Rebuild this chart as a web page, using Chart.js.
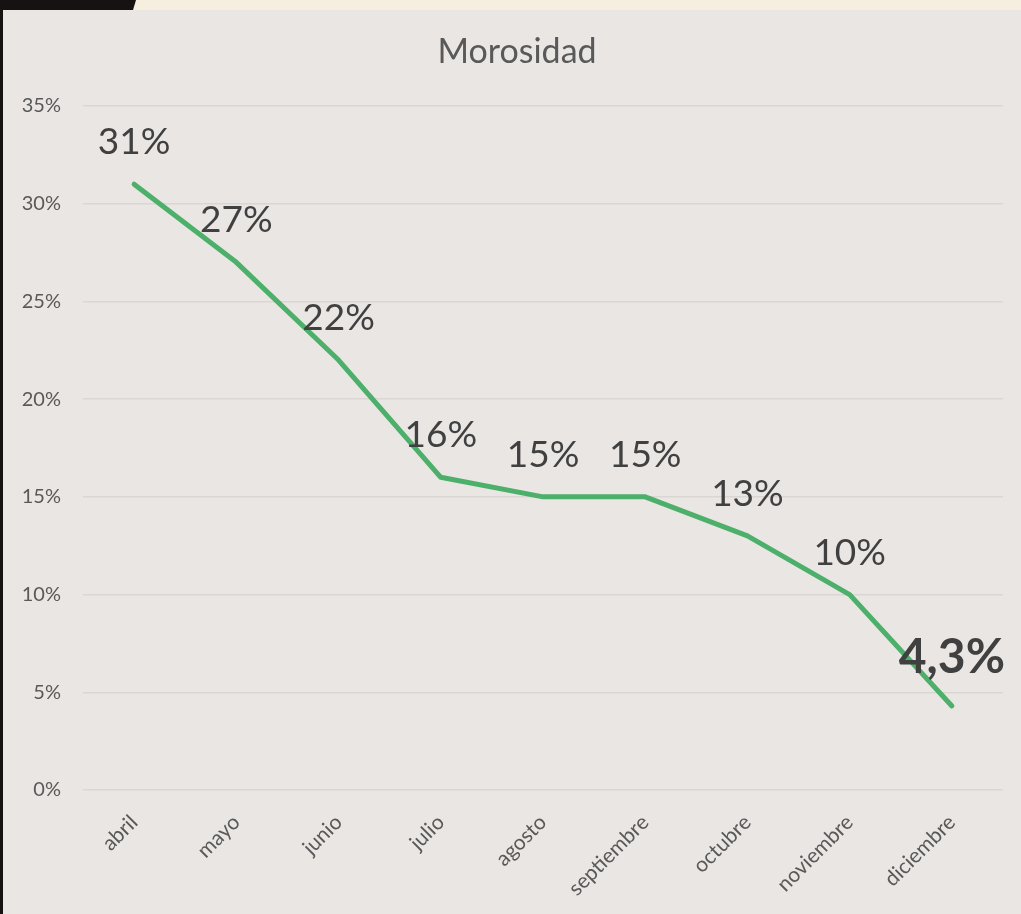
<!DOCTYPE html>
<html>
<head>
<meta charset="utf-8">
<script src="https://cdn.jsdelivr.net/npm/chart.js@4/dist/chart.umd.min.js"></script>
<style>
  html, body { margin: 0; padding: 0; }
  body { width: 1021px; height: 914px; position: relative; overflow: hidden; background: #161212; }
  #strip { position: absolute; left: 0; top: 0; width: 1021px; height: 10px; background: #f6efdf; }
  #strip-dark { position: absolute; left: 0; top: 0; width: 136px; height: 10px; background: #161212;
    clip-path: polygon(0 0, 136px 0, 133px 10px, 0 10px); }
  #panel { position: absolute; left: 3px; top: 10px; width: 1018px; height: 904px; background: #eae6e4; }
</style>
</head>
<body>
<div id="strip"></div>
<div id="strip-dark"></div>
<div id="panel"><canvas id="chart" width="1018" height="904"></canvas></div>
<script>
const chartTitle = 'Morosidad';
const months = ['abril', 'mayo', 'junio', 'julio', 'agosto', 'septiembre', 'octubre', 'noviembre', 'diciembre'];
const morosidad = [31, 27, 22, 16, 15, 15, 13, 10, 4.3];
const valueLabels = ['31%', '27%', '22%', '16%', '15%', '15%', '13%', '10%', '4,3%'];
const boldLabelIndex = 8;

const font = "Lato, 'Open Sans', sans-serif";
const textDark = '#404040';
const textGrey = '#595959';

// title sits a bit left of the plot centre, so draw it by hand
const titlePlugin = {
    id: 'slideTitle',
    afterDraw(chart) {
        const ctx = chart.ctx;
        ctx.save();
        ctx.fillStyle = textGrey;
        ctx.font = '34px ' + font;
        ctx.textAlign = 'center';
        ctx.textBaseline = 'alphabetic';
        ctx.fillText(chartTitle, 514, 53);
        ctx.restore();
    }
};

// value labels centred above each point
const valueLabelPlugin = {
    id: 'valueLabels',
    afterDatasetsDraw(chart) {
        const ctx = chart.ctx;
        const meta = chart.getDatasetMeta(0);
        ctx.save();
        ctx.fillStyle = textDark;
        ctx.textAlign = 'center';
        ctx.textBaseline = 'middle';
        meta.data.forEach((pt, i) => {
            const bold = i === boldLabelIndex;
            ctx.font = (bold ? 'bold 48px ' : '37px ') + font;
            ctx.fillText(valueLabels[i], pt.x, pt.y - (bold ? 48 : 42));
        });
        ctx.restore();
    }
};

new Chart(document.getElementById('chart'), {
    type: 'line',
    data: {
        labels: months,
        datasets: [{
            label: 'Morosidad',
            data: morosidad,
            borderColor: '#4caf6a',
            borderWidth: 5,
            borderCapStyle: 'round',
            borderJoinStyle: 'round',
            pointRadius: 0,
            tension: 0,
        }]
    },
    options: {
        responsive: false,
        animation: false,
        layout: { padding: { top: 96, right: 18 } },
        scales: {
            x: {
                offset: true,
                grid: { display: false },
                border: { display: false },
                ticks: {
                    color: textGrey,
                    font: { family: font, size: 21 },
                    minRotation: 45,
                    maxRotation: 45,
                    padding: 12,
                },
                afterFit: (axis) => { axis.height = 124; },
            },
            y: {
                min: 0,
                max: 35,
                grid: { color: '#d9d6d4', lineWidth: 1.5, drawTicks: false },
                border: { display: false },
                ticks: {
                    stepSize: 5,
                    color: textGrey,
                    font: { family: font, size: 20 },
                    padding: 22,
                    callback: (v) => v + '%',
                },
                afterFit: (axis) => { axis.width = 80; },
            }
        },
        plugins: {
            legend: { display: false },
            tooltip: { enabled: false },
            title: { display: false },
        }
    },
    plugins: [valueLabelPlugin, titlePlugin]
});
</script>
</body>
</html>
